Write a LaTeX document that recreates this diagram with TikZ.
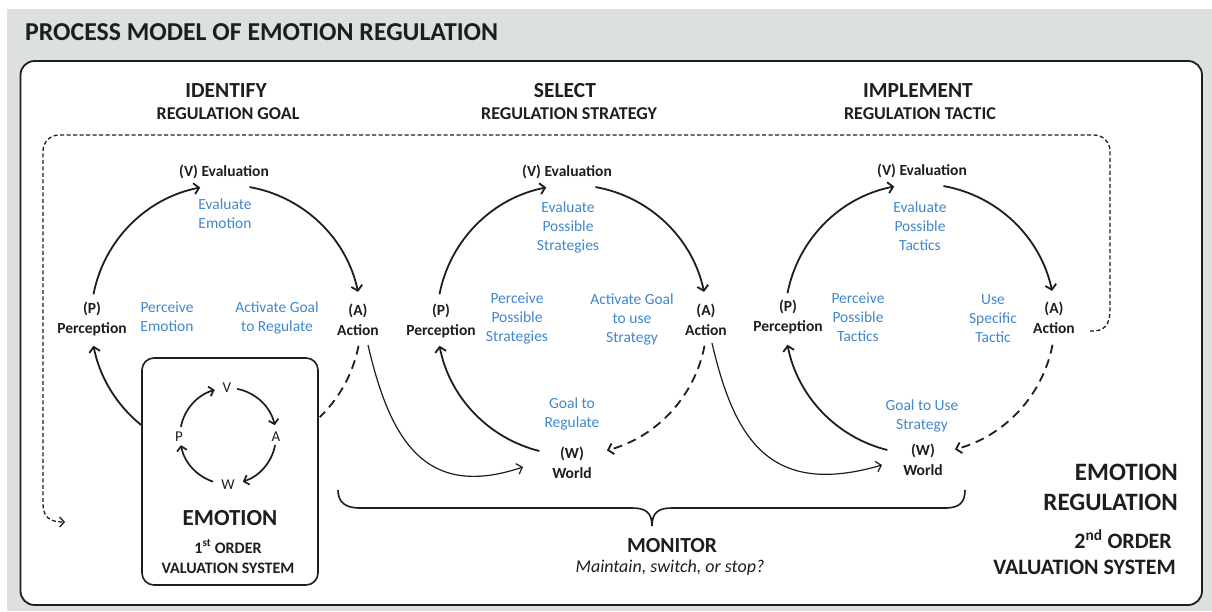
\documentclass[tikz,border=0pt]{standalone}
\usepackage{fontspec}
\setmainfont{Carlito}
\usetikzlibrary{arrows.meta}
\definecolor{bgGray}{RGB}{220,224,223}
\definecolor{txtBlue}{RGB}{63,136,205}
\definecolor{ink}{RGB}{30,30,30}
\begin{document}
\begin{tikzpicture}[x=1pt,y=-1pt,
  titletxt/.style={font=\bfseries\fontsize{25.8}{30}\selectfont, text=ink, inner sep=0pt, anchor=base west},
  headtxt/.style={font=\bfseries\fontsize{21.5}{26}\selectfont, text=ink, inner sep=0pt, anchor=base},
  subtxt/.style={font=\bfseries\fontsize{18}{21}\selectfont, text=ink, inner sep=0pt, anchor=base},
  labtxt/.style={font=\bfseries\fontsize{15.5}{20}\selectfont, text=ink, inner sep=0pt, anchor=base, align=center},
  bluetxt/.style={font=\fontsize{15.5}{19}\selectfont, text=txtBlue, inner sep=0pt, anchor=base, align=center},
  smalltxt/.style={font=\fontsize{15}{18}\selectfont, text=ink, inner sep=0pt, anchor=base},
  bigtxt/.style={font=\bfseries\fontsize{25}{30}\selectfont, text=ink, inner sep=0pt, anchor=base east},
  medtxt/.style={font=\bfseries\fontsize{22}{26}\selectfont, text=ink, inner sep=0pt, anchor=base east},
  arcline/.style={line width=1.8pt, draw=ink, -{Straight Barb[length=5pt,width=11pt]}},
  dasharc/.style={line width=1.8pt, draw=ink, dash pattern=on 9pt off 6pt},
  thinarrow/.style={line width=1.2pt, draw=ink, -{Straight Barb[length=5pt,width=11pt]}},
  smallarc/.style={line width=1.7pt, draw=ink, -{Straight Barb[length=4.5pt,width=10pt]}},
  loopline/.style={line width=1.3pt, draw=ink, dash pattern=on 4pt off 2.5pt},
]
\useasboundingbox (0,0) rectangle (1212,611);
\fill[bgGray] (7,9) rectangle (1212,611);
\draw[line width=1.8pt, draw=ink, fill=white, rounded corners=14pt] (20.5,61) rectangle (1202,605);

% title and headings
\node[titletxt] (title) at (25,40) {PROCESS MODEL OF EMOTION REGULATION};
\node[headtxt] (h1) at (226,97) {IDENTIFY};
\node[subtxt] (s1) at (228,119) {REGULATION GOAL};
\node[headtxt] (h2) at (565,97) {SELECT};
\node[subtxt] (s2) at (569,119) {REGULATION STRATEGY};
\node[headtxt] (h3) at (918,97) {IMPLEMENT};
\node[subtxt] (s3) at (920,119) {REGULATION TACTIC};

% outer dashed loop
\coordinate (loopS) at (1090,331);
\coordinate (loopE) at (65,522);
\draw[loopline, -{Straight Barb[length=4.5pt,width=10pt]}] (loopS) .. controls (1104,332) and (1110,325) .. (1110,310)
  -- (1110,151) arc[start angle=0, end angle=-90, radius=16] -- (59,135)
  arc[start angle=-90, end angle=-180, radius=16] -- (43,503)
  .. controls (43,516) and (48,522) .. (loopE);

% emotion box
\node[draw=ink, line width=1.6pt, rounded corners=12pt, minimum width=176pt, minimum height=227pt, inner sep=0pt] (emo) at (230,471.5) {};
\coordinate (sc) at (228,436);
\node[smalltxt] (sv) at (227,392) {V};
\node[smalltxt] (sa) at (276,441) {A};
\node[smalltxt] (sw) at (228,489) {W};
\node[smalltxt] (sp) at (179,441) {P};
\draw[smallarc] ([shift={(-169:48)}]sc) arc[start angle=-169, end angle=-106, radius=48];
\draw[smallarc] ([shift={(-79:48)}]sc) arc[start angle=-79, end angle=-13, radius=48];
\draw[smallarc] ([shift={(11:48)}]sc) arc[start angle=11, end angle=72, radius=48];
\draw[smallarc] ([shift={(108:48)}]sc) arc[start angle=108, end angle=169, radius=48];
\node[font=\bfseries\fontsize{23}{28}\selectfont, text=ink, inner sep=0pt, anchor=base] (emot) at (230,525) {EMOTION};
\node[font=\bfseries\fontsize{16}{20}\selectfont, text=ink, inner sep=0pt, anchor=base, align=center] (ord1) at (228,573) {1\textsuperscript{st} ORDER\\VALUATION SYSTEM};

% cycle 1
\coordinate (c1) at (226,320);
\node[labtxt] (v1) at (224,176) {(V) Evaluation};
\node[labtxt] (p1) at (92,333) {(P)\\Perception};
\node[labtxt] (a1) at (358,335) {(A)\\Action};
\node[bluetxt] (b1a) at (225,228) {Evaluate\\Emotion};
\node[bluetxt] (b1b) at (167,331) {Perceive\\Emotion};
\node[bluetxt] (b1c) at (277,331) {Activate Goal\\to Regulate};
\draw[arcline] ([shift={(-169:135)}]c1) arc[start angle=-169, end angle=-101, radius=135];
\draw[arcline] ([shift={(-80:135)}]c1) arc[start angle=-80, end angle=-12, radius=135];
\draw[dasharc] ([shift={(11:135)}]c1) arc[start angle=11, end angle=46, radius=135];
\draw[arcline] ([shift={(129:135)}]c1) arc[start angle=129, end angle=169, radius=135];

% cycle 2
\coordinate (c2) at (572,320);
\node[labtxt] (v2) at (567,176) {(V) Evaluation};
\node[labtxt] (p2) at (441,335) {(P)\\Perception};
\node[labtxt] (a2) at (706,335) {(A)\\Action};
\node[labtxt] (w2) at (572,478) {(W)\\World};
\node[bluetxt] (b2a) at (568,250) {Evaluate\\Possible\\Strategies};
\node[bluetxt] (b2b) at (517,341) {Perceive\\Possible\\Strategies};
\node[bluetxt] (b2c) at (632,342) {Activate Goal\\to use\\Strategy};
\node[bluetxt] (b2d) at (572,427) {Goal to\\Regulate};
\draw[arcline] ([shift={(-169:135)}]c2) arc[start angle=-169, end angle=-101, radius=135];
\draw[arcline] ([shift={(-80:135)}]c2) arc[start angle=-80, end angle=-12, radius=135];
\draw[dasharc, -{Straight Barb[length=5pt,width=11pt]}] ([shift={(11:135)}]c2) arc[start angle=11, end angle=75, radius=135];
\draw[arcline] ([shift={(104:135)}]c2) arc[start angle=104, end angle=169, radius=135];

% cycle 3
\coordinate (c3) at (920,319);
\node[labtxt] (v3) at (922,175) {(V) Evaluation};
\node[labtxt] (p3) at (788,331) {(P)\\Perception};
\node[labtxt] (a3) at (1054,333) {(A)\\Action};
\node[labtxt] (w3) at (923,475) {(W)\\World};
\node[bluetxt] (b3a) at (920,250) {Evaluate\\Possible\\Tactics};
\node[bluetxt] (b3b) at (858,341) {Perceive\\Possible\\Tactics};
\node[bluetxt] (b3c) at (993,342) {Use\\Specific\\Tactic};
\node[bluetxt] (b3d) at (922,429) {Goal to Use\\Strategy};
\draw[arcline] ([shift={(-169:135)}]c3) arc[start angle=-169, end angle=-101, radius=135];
\draw[arcline] ([shift={(-80:135)}]c3) arc[start angle=-80, end angle=-12, radius=135];
\draw[dasharc, -{Straight Barb[length=5pt,width=11pt]}] ([shift={(11:135)}]c3) arc[start angle=11, end angle=75, radius=135];
\draw[arcline] ([shift={(104:135)}]c3) arc[start angle=104, end angle=169, radius=135];

% cross connectors
\coordinate (x1s) at (368,345);
\coordinate (x1e) at (523,467);
\draw[thinarrow] (x1s) .. controls (390,440) and (425,500) .. (x1e);
\coordinate (x2s) at (712,343);
\coordinate (x2e) at (882,465);
\draw[thinarrow] (x2s) .. controls (734,438) and (769,498) .. (x2e);

% brace
\coordinate (brL) at (338,490);
\coordinate (brR) at (965,490);
\coordinate (brT) at (652,526);
\draw[line width=1.6pt, draw=ink] (brL) .. controls (338,502) and (345,508) .. (360,508) -- (632,508)
  .. controls (645,508) and (652,512) .. (brT) .. controls (652,512) and (659,508) .. (672,508)
  -- (945,508) .. controls (960,508) and (965,502) .. (brR);
\node[font=\bfseries\fontsize{21.5}{26}\selectfont, text=ink, inner sep=0pt, anchor=base] (mon) at (672,552) {MONITOR};
\node[font=\itshape\fontsize{18}{22}\selectfont, text=ink, inner sep=0pt, anchor=base] (mon2) at (670,572) {Maintain, switch, or stop?};

% right texts
\node[bigtxt] (er1) at (1178,480) {EMOTION};
\node[bigtxt] (er2) at (1178,510) {REGULATION};
\node[medtxt] (er3) at (1172,548) {2\textsuperscript{nd} ORDER};
\node[medtxt] (er4) at (1176,574) {VALUATION SYSTEM};
\end{tikzpicture}
\end{document}
